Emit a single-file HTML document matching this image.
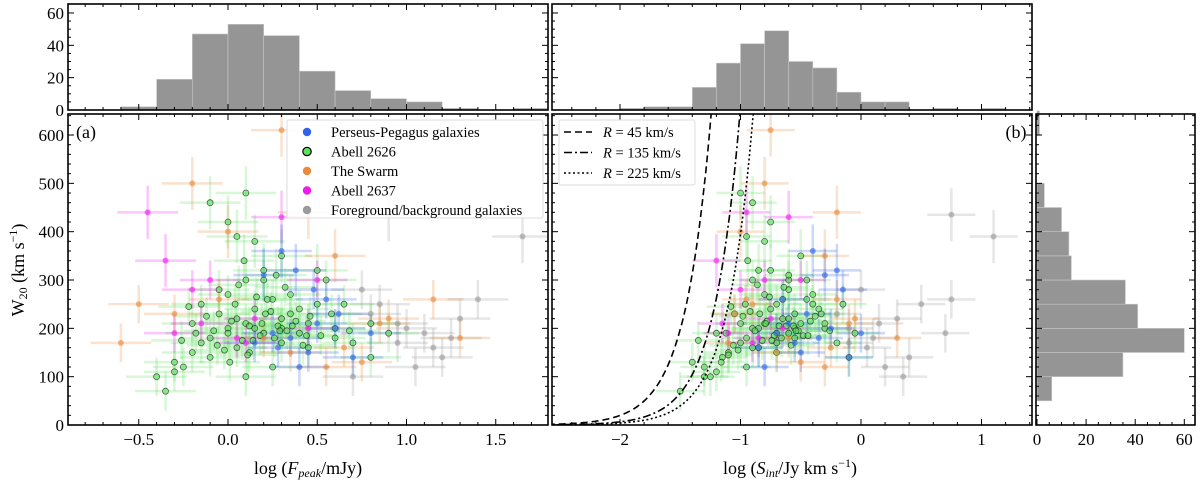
<!DOCTYPE html>
<html><head><meta charset="utf-8"><style>
html,body{margin:0;padding:0;background:#fff;}
svg{display:block;font-family:"Liberation Serif",serif;}
</style></head><body>
<svg id="fig" width="1200" height="484" viewBox="0 0 1200 484"></svg>
<script>
// ---- data ----
const fpHistEdges=[-0.6,-0.4,-0.2,0.0,0.2,0.4,0.6,0.8,1.0,1.2,1.4,1.6,1.8];
const fpHistCounts=[2,19,47,53,46,24,12,7,5,1,0,1];
const siHistEdges=[-2.0,-1.8,-1.6,-1.4,-1.2,-1.0,-0.8,-0.6,-0.4,-0.2,0.0,0.2,0.4,0.6,0.8,1.0,1.2];
const siHistCounts=[1,2,2,14,29,41,49,30,26,11,5,5,0,1,0,1];
const wHistEdges=[50,100,150,200,250,300,350,400,450,500,550,600,650];
const wHistCounts=[6,35,60,41,36,14,13,10,3,0,0,1];
const categories=['Perseus-Pegagus galaxies','Abell 2626','The Swarm','Abell 2637','Foreground/background galaxies'];
// columns: log Fpeak, log Sint, W20
const ppF=[0.35,0.5,0.45,0.25,0.7,0.8,0.3,0.6,0.4,0.55,0.2,0.15,0.62,0.38,0.48,0.28];
const ppS=[-0.35,-0.6,-0.5,-0.7,-0.1,0.0,-0.4,-0.25,-0.8,-0.65,-0.3,-0.55,-0.45,-0.2,-0.15,-0.85];
const ppW=[180,210,150,190,140,190,360,200,120,260,310,170,230,320,280,160];
const a26F=[-0.1,0.0,0.1,0.2,0.3,0.05,-0.15,0.15,0.25,0.35,0.45,0.5,0.6,-0.05,0.0,0.1,0.2,-0.2,-0.3,-0.25,-0.1,0.3,0.4,0.7,0.8,-0.35,-0.4,0.05,0.15,0.3,0.55,-0.1,0.1,0.0,0.2,0.35,0.25,0.45,-0.15,0.05,0.15,0.4,0.6,-0.2,0.0,0.5,0.3,0.12,-0.05,0.22,0.8,0.65,-0.3,0.9,0.1,
 -0.08,0.02,0.18,0.28,0.08,-0.12,0.33,0.42,0.52,-0.22,0.12,0.24,0.38,-0.02,0.16,0.06,0.26,0.46,-0.18,0.36,0.04,0.14,0.32,0.21,-0.06,0.09,0.29,0.19,0.44,0.01,-0.26,0.58,0.68,0.11,0.27];
const a26S=[-0.95,-0.85,-0.8,-0.7,-0.6,-0.9,-1.0,-0.75,-0.65,-0.55,-0.5,-0.4,-0.3,-1.05,-0.8,-0.9,-0.85,-1.1,-1.2,-1.3,-1.15,-0.7,-0.6,-0.2,-0.1,-1.5,-1.25,-0.95,-0.8,-0.5,-0.45,-0.9,-1.0,-0.75,-0.6,-0.4,-0.95,-0.85,-0.7,-0.65,-0.55,-0.35,-0.55,-1.0,-1.2,-0.75,-0.9,-0.7,-0.6,-0.45,-0.3,-0.15,-1.4,-0.05,-1.3,
 -0.88,-0.78,-0.72,-0.62,-0.82,-0.98,-0.52,-0.58,-0.48,-1.08,-0.68,-0.92,-0.42,-1.02,-0.76,-0.86,-0.66,-0.38,-1.12,-0.56,-0.96,-0.74,-0.64,-0.84,-1.06,-0.94,-0.54,-0.79,-0.44,-1.16,-1.35,-0.33,-0.26,-1.1,-0.6];
const a26W=[180,200,210,190,220,160,170,240,260,230,210,250,200,230,270,300,320,150,110,120,140,170,190,170,140,70,100,390,380,350,300,460,480,420,300,270,120,160,250,220,200,240,180,210,190,320,200,150,280,260,210,250,130,190,100,
 195,215,185,205,175,225,195,165,185,245,205,235,215,155,265,290,180,225,190,205,250,175,285,230,165,340,195,210,185,130,175,230,195,145,310];
const swF=[-0.6,-0.5,-0.2,0.35,0.45,1.15,1.3,0.9,-0.05,0.55,0.75,0.3,0.0,0.6,-0.3,0.2,0.65,0.85];
const swS=[-1.1,-0.9,-0.8,-0.7,-0.2,-0.2,0.3,-0.05,-0.95,-0.3,-0.5,-0.75,-1.0,-0.3,-1.05,-0.6,-0.25,-0.1];
const swW=[170,250,500,150,440,260,180,220,260,120,130,610,400,350,230,180,160,210];
const a37F=[-0.35,-0.2,-0.1,0.1,0.3,0.5,-0.3,0.15,0.45,-0.45,-0.15,0.05];
const a37S=[-1.2,-1.0,-0.8,-0.9,-0.6,-0.5,-1.1,-0.75,-0.65,-0.95,-1.15,-0.85];
const a37W=[340,280,300,170,430,300,190,220,200,440,210,180];
const fgF=[1.65,1.4,1.25,1.05,0.8,0.85,0.95,1.1,1.3,0.75,0.9,1.2,0.7,1.0,1.15,0.95];
const fgS=[1.1,0.75,0.1,0.2,-0.2,0.5,-0.1,0.7,0.3,0.0,0.75,0.4,0.35,-0.1,0.05,0.15];
const fgW=[390,260,180,120,230,250,170,190,220,280,435,140,100,200,160,210];
const radii=[45,135,225];
const radiusLabels=['R = 45 km/s','R = 135 km/s','R = 225 km/s'];
const xTicksA=[-0.5,0.0,0.5,1.0,1.5];
const xTicksB=[-2,-1,0,1];
const yTicks=[0,100,200,300,400,500,600];
const histTicks=[0,20,40,60];

// ---- layout ----
const NS='http://www.w3.org/2000/svg';
const svg=document.getElementById('fig');
function el(tag,attrs,parent){const e=document.createElementNS(NS,tag);for(const k in attrs)e.setAttribute(k,attrs[k]);(parent||svg).appendChild(e);return e;}
const PA={x0:68,x1:548,y0:114,y1:425}, PB={x0:552,x1:1032,y0:114,y1:425};
const HA={y0:4,y1:110}, HR={x0:1036,x1:1195};
const xA=v=>228+(v-0)*178.5;
const xB=v=>861+v*120.5;
const yW=v=>425-v*0.4833;
const yH=v=>110-v*1.617;
const xH=v=>1037+v*2.455;

const cols={pp:'#2f63ea',a26:'#5ee05e',sw:'#ea8a3c',a37:'#ee1aee',fg:'#9a9a9a'};

const defs=el('defs',{});
const cpa=el('clipPath',{id:'cpa'},defs);el('rect',{x:PA.x0,y:PA.y0,width:PA.x1-PA.x0,height:PA.y1-PA.y0},cpa);
const cpb=el('clipPath',{id:'cpb'},defs);el('rect',{x:PB.x0,y:PB.y0,width:PB.x1-PB.x0,height:PB.y1-PB.y0},cpb);

function text(x,y,s,size,anchor,name,parent){const t=el('text',{x:x,y:y,'font-size':size,'text-anchor':anchor||'middle',fill:'#000'},parent);t.textContent=s;return t;}

function vhist(edges,counts,xf,clip,name){
  const g=el('g',{'clip-path':clip});
  
  
  counts.forEach((c,i)=>{if(c<=0)return;const xa=xf(edges[i]),xb=xf(edges[i+1]);
    const r=el('rect',{x:xa,y:yH(c),width:xb-xa,height:yH(0)-yH(c),fill:'#959595',stroke:'#c8c8c8','stroke-width':0.6},g);
    
    });
}
const cha=el('clipPath',{id:'cha'},defs);el('rect',{x:PA.x0,y:HA.y0,width:PA.x1-PA.x0,height:HA.y1-HA.y0},cha);
const chb=el('clipPath',{id:'chb'},defs);el('rect',{x:PB.x0,y:HA.y0,width:PB.x1-PB.x0,height:HA.y1-HA.y0},chb);
vhist(fpHistEdges,fpHistCounts,xA,'url(#cha)','fpeak-histogram');
vhist(siHistEdges,siHistCounts,xB,'url(#chb)','sint-histogram');
const gr=el('g',{});


wHistCounts.forEach((c,i)=>{if(c<=0)return;const ya=yW(wHistEdges[i+1]),yb=yW(wHistEdges[i]);
  const r=el('rect',{x:xH(0),y:ya,width:xH(c)-xH(0),height:yb-ya,fill:'#959595',stroke:'#c8c8c8','stroke-width':0.6},gr);
  
  });

const sets=[['fg',fgF,fgS,fgW],['a26',a26F,a26S,a26W],['sw',swF,swS,swW],['a37',a37F,a37S,a37W],['pp',ppF,ppS,ppW]];
function scatter(panel,xf,clip,idx,xerr){
  const g=el('g',{'clip-path':clip});
  
  
  sets.forEach(([k,F,S,W])=>{
    const X=idx===0?F:S;
    X.forEach((xv,i)=>{
      const cx=xf(xv),cy=yW(W[i]);
      const ex=xf(xv+xerr)-cx, ey=yW(0)-yW(W[i]>300?55:40);
      el('line',{x1:cx-ex,x2:cx+ex,y1:cy,y2:cy,stroke:cols[k],'stroke-opacity':0.25,'stroke-width':2.5},g);
      el('line',{x1:cx,x2:cx,y1:cy-ey,y2:cy+ey,stroke:cols[k],'stroke-opacity':0.25,'stroke-width':2.5},g);
    });
  });
  sets.forEach(([k,F,S,W])=>{
    const X=idx===0?F:S;
    X.forEach((xv,i)=>{
      const c=el('circle',{cx:xf(xv),cy:yW(W[i]),r:3,fill:cols[k],'fill-opacity':0.6,stroke:k==='a26'?'#000':'none','stroke-opacity':0.6,'stroke-width':0.8},g);
      
      
    });
  });
}
scatter('fpeak',xA,'url(#cpa)',0,0.17);
scatter('sint',xB,'url(#cpb)',1,0.2);

const dashes=['7,4','8,3,2,3','2,2.5'];
const gc=el('g',{'clip-path':'url(#cpb)'});
radii.forEach((R,j)=>{
  let d='';
  for(let x=-2.6;x<=0.2;x+=0.01){const W=8.9e6*Math.pow(10,2*x)/R;const py=Math.max(yW(W),0);d+=(d?'L':'M')+xB(x).toFixed(1)+','+py.toFixed(1);if(py<=0)break;}
  const p=el('path',{d:d,fill:'none',stroke:'#000','stroke-width':1.6,'stroke-dasharray':dashes[j]},gc);
  
  
});

function frame(x0,y0,x1,y1,name){const r=el('rect',{x:x0,y:y0,width:x1-x0,height:y1-y0,fill:'none',stroke:'#000','stroke-width':1.6});}
function xticks(f,y0,y1,lo,hi,maj,minr){
  for(let v=lo;v<=hi+1e-9;v+=minr){const px=f(v);const m=Math.abs(v/maj-Math.round(v/maj))<1e-6;const L=m?6:3;
    el('line',{x1:px,x2:px,y1:y1,y2:y1-L,stroke:'#000','stroke-width':1});el('line',{x1:px,x2:px,y1:y0,y2:y0+L,stroke:'#000','stroke-width':1});}
}
function yticks(f,x0,x1,lo,hi,maj,minr){
  for(let v=lo;v<=hi+1e-9;v+=minr){const py=f(v);const m=Math.abs(v/maj-Math.round(v/maj))<1e-6;const L=m?6:3;
    el('line',{x1:x0,x2:x0+L,y1:py,y2:py,stroke:'#000','stroke-width':1});el('line',{x1:x1,x2:x1-L,y1:py,y2:py,stroke:'#000','stroke-width':1});}
}
xticks(xA,PA.y0,PA.y1,-0.8,1.7,0.5,0.1); yticks(yW,PA.x0,PA.x1,0,640,100,20);
xticks(xB,PB.y0,PB.y1,-2.4,1.4,1,0.2); yticks(yW,PB.x0,PB.x1,0,640,100,20);
xticks(xA,HA.y0,HA.y1,-0.8,1.7,0.5,0.1); yticks(yH,PA.x0,PA.x1,0,64,20,5);
xticks(xB,HA.y0,HA.y1,-2.4,1.4,1,0.2); yticks(yH,PB.x0,PB.x1,0,64,20,5);
xticks(xH,PA.y0,PA.y1,0,63,20,5); yticks(yW,HR.x0,HR.x1,0,640,100,20);
frame(PA.x0,HA.y0,PA.x1,HA.y1,'top-left-hist-frame');
frame(PB.x0,HA.y0,PB.x1,HA.y1,'top-middle-hist-frame');
frame(PA.x0,PA.y0,PA.x1,PA.y1,'panel-a-frame');
frame(PB.x0,PB.y0,PB.x1,PB.y1,'panel-b-frame');
frame(HR.x0,PA.y0,HR.x1,PA.y1,'right-hist-frame');

xTicksA.forEach(v=>text(xA(v),445,v<0?'\u2212'+Math.abs(v).toFixed(1):v.toFixed(1),17,'middle','x-tick-label-a'));
xTicksB.forEach(v=>text(xB(v),445,v<0?'\u2212'+Math.abs(v):String(v),17,'middle','x-tick-label-b'));
yTicks.forEach(v=>text(PA.x0-4,yW(v)+6,String(v),17,'end','y-tick-label'));
histTicks.forEach(v=>text(PA.x0-4,yH(v)+6,String(v),17,'end','hist-y-tick-label'));
histTicks.forEach(v=>text(xH(v),445,String(v),17,'middle','hist-x-tick-label'));

const xa=text(308,474,'',18,'middle','x-axis-title-a');xa.innerHTML='log (<tspan font-style="italic">F</tspan><tspan font-style="italic" font-size="12" dy="3">peak</tspan><tspan dy="-3">/mJy)</tspan>';
const xb=text(790,474,'',18,'middle','x-axis-title-b');xb.innerHTML='log (<tspan font-style="italic">S</tspan><tspan font-style="italic" font-size="12" dy="3">int</tspan><tspan dy="-3">/Jy km s</tspan><tspan font-size="12" dy="-7">\u22121</tspan><tspan dy="7">)</tspan>';
const yt=text(0,0,'',18,'middle','y-axis-title');yt.setAttribute('transform','translate(24,270) rotate(-90)');
yt.innerHTML='W<tspan font-size="12" dy="3">20</tspan><tspan dy="-3"> (km s</tspan><tspan font-size="12" dy="-7">\u22121</tspan><tspan dy="7">)</tspan>';
text(86,138,'(a)',18,'middle','panel-a-label');
text(1016,138,'(b)',18,'middle','panel-b-label');

const lg=el('g',{});


el('rect',{x:287,y:120,width:256,height:98,fill:'#fff','fill-opacity':0.85,stroke:'#ddd','stroke-width':1,rx:2},lg);
const lk=['pp','a26','sw','a37','fg'];
categories.forEach((c,i)=>{const y=132+i*19.5;
  const m=el('circle',{cx:307,cy:y,r:4.2,fill:cols[lk[i]],stroke:lk[i]==='a26'?'#000':'none','stroke-width':1.2},lg);
  
  
  text(331,y+5,c,14.5,'start','legend-entry',lg);});

const lb=el('g',{});


el('rect',{x:559,y:120,width:136,height:65,fill:'#fff','fill-opacity':0.85,stroke:'#ddd','stroke-width':1,rx:2},lb);
radiusLabels.forEach((s,i)=>{const y=132+i*20.5;
  el('line',{x1:564,x2:592,y1:y,y2:y,stroke:'#000','stroke-width':1.6,'stroke-dasharray':dashes[i]},lb);
  const t=text(603,y+5,'',14.5,'start','legend-entry',lb);
  t.innerHTML='<tspan font-style="italic">R</tspan> = '+radii[i]+' km/s';});
</script>
</body></html>
